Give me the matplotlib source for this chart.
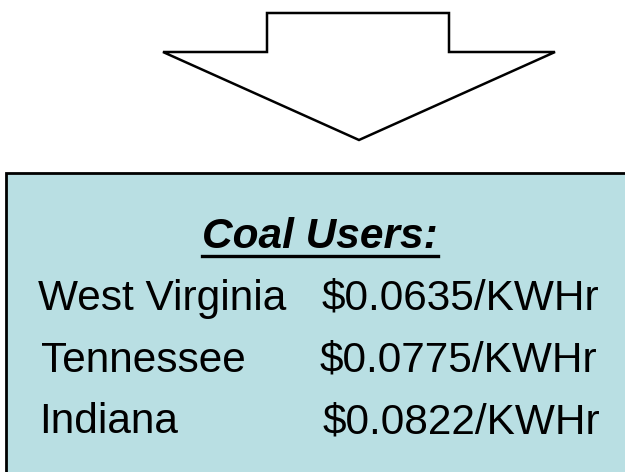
import matplotlib
matplotlib.use("Agg")
import matplotlib.pyplot as plt
from matplotlib.patches import Polygon, Rectangle
from matplotlib.lines import Line2D

title = "Coal Users:"
states = ["West Virginia", "Tennessee", "Indiana"]
prices = ["$0.0635/KWHr", "$0.0775/KWHr", "$0.0822/KWHr"]

W, H = 625, 472
fig = plt.figure(figsize=(W / 100, H / 100), dpi=100)
ax = fig.add_axes([0, 0, 1, 1])
ax.set_xlim(0, W)
ax.set_ylim(H, 0)
ax.axis("off")

font = "Liberation Sans"
fs = 30.5

# Down arrow
arrow = Polygon([(267, 13), (449, 13), (449, 52), (555, 52), (359, 140),
                 (163, 52), (267, 52)], closed=True, facecolor="white",
                edgecolor="black", linewidth=1.8, joinstyle="miter")
ax.add_patch(arrow)

# Box
box = Rectangle((6, 173), 700, 400, facecolor="#B9DFE3", edgecolor="black",
                linewidth=2.0)
ax.add_patch(box)

# Title
t = ax.text(320, 248, title, fontsize=fs, fontweight="bold", fontstyle="italic",
            family=font, ha="center", va="baseline", color="black")

row_y = [310, 372, 433]
state_x = [38, 41, 39]
price_x = [322, 320, 323]
for s, p, y, sx, px in zip(states, prices, row_y, state_x, price_x):
    ax.text(sx, y, s, fontsize=fs, family=font, ha="left", va="baseline", color="black")
    ax.text(px, y, p, fontsize=fs, family=font, ha="left", va="baseline", color="black")

# Underline for title
fig.canvas.draw()
bb = t.get_window_extent(renderer=fig.canvas.get_renderer())
inv = ax.transData.inverted()
(x0, _), (x1, _) = inv.transform([(bb.x0, 0), (bb.x1, 0)])
ax.add_line(Line2D([x0, x1], [256, 256], color="black", linewidth=2.4))

fig.savefig("out.png", dpi=100)
